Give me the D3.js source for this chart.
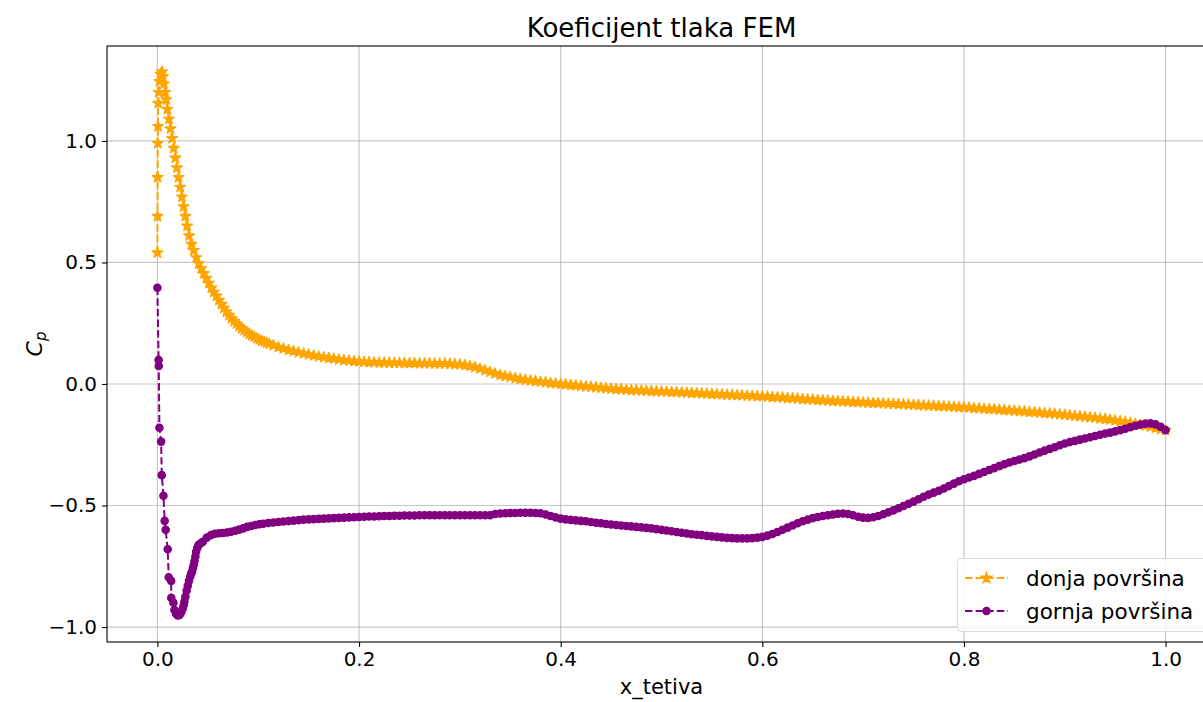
<!DOCTYPE html>
<html>
<head>
<meta charset="utf-8">
<script src="https://cdn.jsdelivr.net/npm/d3@7"></script>
<style>
  html, body { margin: 0; padding: 0; background: #fff; overflow: hidden; }
  text { font-family: "DejaVu Sans", sans-serif; }
</style>
</head>
<body>
<svg id="chart" width="1203" height="702"></svg>
<script>
// ---------------- data ----------------
const chartTitle = "Koeficijent tlaka FEM";
const xLabel = "x_tetiva";
const seriesNames = ["donja površina", "gornja površina"];
const xTicks = [0.0, 0.2, 0.4, 0.6, 0.8, 1.0];
const yTicks = [-1.0, -0.5, 0.0, 0.5, 1.0];

// lower surface (donja površina)
const xLower = [
  0, 0.0001, 0.0002, 0.0004, 0.0006, 0.0008, 0.0012, 0.002, 0.003, 0.0045, 0.0055, 0.0065, 0.0078, 0.0088,
  0.0099, 0.0115, 0.013, 0.0146, 0.0162, 0.0178, 0.0194, 0.021, 0.0226, 0.0243, 0.026, 0.0277, 0.0295, 0.0315,
  0.0337, 0.036, 0.0385, 0.041, 0.0435, 0.046, 0.0485, 0.051, 0.0535, 0.056, 0.0585, 0.061, 0.0635, 0.066,
  0.0685, 0.071, 0.0735, 0.076, 0.0785, 0.081, 0.0835, 0.086, 0.0885, 0.091, 0.0935, 0.096, 0.0985, 0.101,
  0.1035, 0.106, 0.1085, 0.111,
  0.115, 0.12, 0.125, 0.13, 0.135, 0.14, 0.145, 0.15, 0.155, 0.16, 0.165, 0.17, 0.175, 0.18, 0.185, 0.19,
  0.195, 0.2, 0.205, 0.21, 0.215, 0.22, 0.225, 0.23, 0.235, 0.24, 0.245, 0.25, 0.255, 0.26, 0.265, 0.27,
  0.275, 0.28, 0.285, 0.29, 0.295, 0.3, 0.305, 0.31, 0.315, 0.32, 0.325, 0.33, 0.335, 0.34, 0.345, 0.35,
  0.355, 0.36, 0.365, 0.37, 0.375, 0.38, 0.385, 0.39, 0.395, 0.4, 0.405, 0.41, 0.415, 0.42, 0.425, 0.43,
  0.435, 0.44, 0.445, 0.45, 0.455, 0.46, 0.465, 0.47, 0.475, 0.48, 0.485, 0.49, 0.495, 0.5, 0.505, 0.51,
  0.515, 0.52, 0.525, 0.53, 0.535, 0.54, 0.545, 0.55, 0.555, 0.56, 0.565, 0.57, 0.575, 0.58, 0.585, 0.59,
  0.595, 0.6, 0.605, 0.61, 0.615, 0.62, 0.625, 0.63, 0.635, 0.64, 0.645, 0.65, 0.655, 0.66, 0.665, 0.67,
  0.675, 0.68, 0.685, 0.69, 0.695, 0.7, 0.705, 0.71, 0.715, 0.72, 0.725, 0.73, 0.735, 0.74, 0.745, 0.75,
  0.755, 0.76, 0.765, 0.77, 0.775, 0.78, 0.785, 0.79, 0.795, 0.8, 0.805, 0.81, 0.815, 0.82, 0.825, 0.83,
  0.835, 0.84, 0.845, 0.85, 0.855, 0.86, 0.865, 0.87, 0.875, 0.88, 0.885, 0.89, 0.895, 0.9, 0.905, 0.91,
  0.915, 0.92, 0.925, 0.93, 0.935, 0.94, 0.945, 0.95, 0.955, 0.96, 0.965, 0.97, 0.975, 0.98, 0.985, 0.99,
  0.995, 1.0
];
const cpLower = [
  0.54, 0.69, 0.85, 0.99, 1.06, 1.155, 1.20, 1.245, 1.275, 1.285, 1.265, 1.235, 1.20, 1.17,
  1.13, 1.09, 1.05, 1.01, 0.97, 0.93, 0.89, 0.85, 0.81, 0.77, 0.73, 0.69, 0.65, 0.61,
  0.575, 0.55, 0.52, 0.495, 0.475, 0.455, 0.435, 0.415, 0.395, 0.378, 0.362, 0.345, 0.328, 0.312,
  0.297, 0.283, 0.27, 0.258, 0.248, 0.238, 0.229, 0.221, 0.213, 0.206, 0.2, 0.194, 0.188, 0.183,
  0.178, 0.173, 0.169, 0.165,
  0.159, 0.152, 0.146, 0.14, 0.135, 0.13, 0.125, 0.121, 0.117, 0.113, 0.11, 0.107, 0.104, 0.101, 0.098, 0.096,
  0.094, 0.092, 0.091, 0.09, 0.089, 0.088, 0.088, 0.087, 0.087, 0.087, 0.086, 0.086, 0.086, 0.085, 0.085, 0.085,
  0.084, 0.084, 0.084, 0.083, 0.082, 0.081, 0.078, 0.074, 0.069, 0.063, 0.057, 0.05, 0.043, 0.037, 0.032, 0.028,
  0.024, 0.02, 0.017, 0.014, 0.012, 0.009, 0.007, 0.004, 0.002, 0.0, -0.002, -0.004, -0.006, -0.008, -0.01, -0.012,
  -0.014, -0.016, -0.018, -0.019, -0.021, -0.022, -0.024, -0.025, -0.026, -0.027, -0.028, -0.029, -0.03, -0.031, -0.032, -0.033,
  -0.034, -0.035, -0.036, -0.037, -0.038, -0.039, -0.04, -0.041, -0.042, -0.043, -0.044, -0.045, -0.046, -0.047, -0.048, -0.049,
  -0.05, -0.051, -0.052, -0.054, -0.055, -0.056, -0.058, -0.059, -0.06, -0.062, -0.063, -0.064, -0.066, -0.067, -0.068, -0.07,
  -0.071, -0.072, -0.073, -0.074, -0.075, -0.076, -0.077, -0.078, -0.079, -0.08, -0.081, -0.082, -0.083, -0.084, -0.085, -0.086,
  -0.087, -0.088, -0.089, -0.09, -0.091, -0.092, -0.093, -0.094, -0.095, -0.096, -0.097, -0.099, -0.1, -0.102, -0.103, -0.104,
  -0.106, -0.107, -0.109, -0.11, -0.112, -0.113, -0.115, -0.116, -0.118, -0.12, -0.121, -0.123, -0.125, -0.127, -0.129, -0.131,
  -0.133, -0.135, -0.137, -0.139, -0.142, -0.144, -0.147, -0.15, -0.153, -0.156, -0.16, -0.164, -0.168, -0.172, -0.176, -0.181,
  -0.186, -0.19
];

// upper surface (gornja površina)
const xUpper = [
  0, 0.0012, 0.0013, 0.002, 0.0037, 0.0043, 0.006, 0.0072, 0.0082, 0.0102, 0.0112, 0.0136, 0.0138, 0.0159,
  0.0169, 0.0185, 0.0201, 0.022, 0.0235, 0.025, 0.0261, 0.0268, 0.0278, 0.029, 0.0301, 0.0313, 0.0325, 0.0335,
  0.0344, 0.0352, 0.036, 0.0368, 0.0377, 0.0384, 0.0395, 0.0407, 0.043, 0.045, 0.049, 0.053, 0.057, 0.061,
  0.065, 0.069, 0.073, 0.077, 0.081, 0.085, 0.089, 0.093, 0.097, 0.101,
  0.105, 0.11, 0.115, 0.12, 0.125, 0.13, 0.135, 0.14, 0.145, 0.15, 0.155, 0.16, 0.165, 0.17, 0.175, 0.18,
  0.185, 0.19, 0.195, 0.2, 0.205, 0.21, 0.215, 0.22, 0.225, 0.23, 0.235, 0.24, 0.245, 0.25, 0.255, 0.26,
  0.265, 0.27, 0.275, 0.28, 0.285, 0.29, 0.295, 0.3, 0.305, 0.31, 0.315, 0.32, 0.325, 0.33, 0.335, 0.34,
  0.345, 0.35, 0.355, 0.36, 0.365, 0.37, 0.375, 0.38, 0.385, 0.39, 0.395, 0.4, 0.405, 0.41, 0.415, 0.42,
  0.425, 0.43, 0.435, 0.44, 0.445, 0.45, 0.455, 0.46, 0.465, 0.47, 0.475, 0.48, 0.485, 0.49, 0.495, 0.5,
  0.505, 0.51, 0.515, 0.52, 0.525, 0.53, 0.535, 0.54, 0.545, 0.55, 0.555, 0.56, 0.565, 0.57, 0.575, 0.58,
  0.585, 0.59, 0.595, 0.6, 0.605, 0.61, 0.615, 0.62, 0.625, 0.63, 0.635, 0.64, 0.645, 0.65, 0.655, 0.66,
  0.665, 0.67, 0.675, 0.68, 0.685, 0.69, 0.695, 0.7, 0.705, 0.71, 0.715, 0.72, 0.725, 0.73, 0.735, 0.74,
  0.745, 0.75, 0.755, 0.76, 0.765, 0.77, 0.775, 0.78, 0.785, 0.79, 0.795, 0.8, 0.805, 0.81, 0.815, 0.82,
  0.825, 0.83, 0.835, 0.84, 0.845, 0.85, 0.855, 0.86, 0.865, 0.87, 0.875, 0.88, 0.885, 0.89, 0.895, 0.9,
  0.905, 0.91, 0.915, 0.92, 0.925, 0.93, 0.935, 0.94, 0.945, 0.95, 0.955, 0.96, 0.965, 0.97, 0.975, 0.98,
  0.985, 0.99, 0.995, 1.0
];
const cpUpper = [
  0.396, 0.099, 0.074, -0.18, -0.237, -0.375, -0.46, -0.563, -0.60, -0.68, -0.795, -0.81, -0.88, -0.90,
  -0.93, -0.945, -0.952, -0.95, -0.94, -0.925, -0.91, -0.895, -0.875, -0.85, -0.83, -0.81, -0.793, -0.78,
  -0.772, -0.758, -0.745, -0.728, -0.71, -0.69, -0.675, -0.663, -0.655, -0.649, -0.632, -0.622, -0.616, -0.614,
  -0.613, -0.611, -0.608, -0.604, -0.599, -0.594, -0.588, -0.584, -0.58, -0.577,
  -0.575, -0.572, -0.57, -0.568, -0.566, -0.564, -0.562, -0.56, -0.558, -0.557, -0.556, -0.555, -0.554, -0.553, -0.552, -0.551,
  -0.55, -0.549, -0.548, -0.547, -0.546, -0.545, -0.545, -0.544, -0.543, -0.543, -0.542, -0.542, -0.541, -0.541, -0.541, -0.54,
  -0.54, -0.54, -0.54, -0.54, -0.54, -0.54, -0.54, -0.54, -0.54, -0.54, -0.54, -0.54, -0.54, -0.54, -0.535, -0.533,
  -0.532, -0.531, -0.531, -0.53, -0.53, -0.53, -0.531, -0.532, -0.537, -0.543, -0.549, -0.554, -0.557, -0.559, -0.561, -0.563,
  -0.565, -0.568, -0.571, -0.573, -0.576, -0.578, -0.58, -0.582, -0.584, -0.586, -0.588, -0.59, -0.592, -0.594, -0.597, -0.6,
  -0.603, -0.606, -0.609, -0.612, -0.615, -0.618, -0.62, -0.622, -0.625, -0.627, -0.629, -0.631, -0.633, -0.634, -0.635, -0.635,
  -0.635, -0.634, -0.632, -0.629, -0.624, -0.617, -0.609, -0.6, -0.591, -0.582, -0.573, -0.565, -0.558, -0.552, -0.547, -0.543,
  -0.54, -0.537, -0.534, -0.533, -0.535, -0.54, -0.546, -0.55, -0.551, -0.548, -0.543, -0.536, -0.528, -0.52, -0.511, -0.502,
  -0.493, -0.484, -0.474, -0.464, -0.455, -0.447, -0.439, -0.43, -0.42, -0.41, -0.4, -0.392, -0.385, -0.378, -0.37, -0.362,
  -0.354, -0.346, -0.338, -0.33, -0.323, -0.317, -0.311, -0.305, -0.298, -0.29, -0.282, -0.274, -0.267, -0.26, -0.252, -0.245,
  -0.239, -0.234, -0.229, -0.224, -0.219, -0.214, -0.209, -0.204, -0.2, -0.195, -0.19, -0.184, -0.178, -0.172, -0.167, -0.163,
  -0.162, -0.166, -0.176, -0.19
];

// ---------------- drawing ----------------
const colors = ["#FFA500", "#800080"];
const svg = d3.select("#chart");
const plot = { left: 107, top: 46, right: 1216, bottom: 642 };

const x = d3.scaleLinear().domain([-0.05, 1.05]).range([plot.left, plot.right]);
const y = d3.scaleLinear().domain([-1.0615, 1.3905]).range([plot.bottom, plot.top]);

const fmt = v => d3.format(".1f")(v).replace("-", "\u2212");

// grid
const grid = svg.append("g");
grid.selectAll("line.gx").data(xTicks).enter().append("line")
  .attr("x1", d => x(d)).attr("x2", d => x(d))
  .attr("y1", plot.top).attr("y2", plot.bottom)
  .attr("stroke", "#b0b0b0").attr("stroke-opacity", 0.7).attr("stroke-width", 1.2);
grid.selectAll("line.gy").data(yTicks).enter().append("line")
  .attr("x1", plot.left).attr("x2", plot.right)
  .attr("y1", d => y(d)).attr("y2", d => y(d))
  .attr("stroke", "#b0b0b0").attr("stroke-opacity", 0.7).attr("stroke-width", 1.2);

// axes
const xAxis = d3.axisBottom(x).tickValues(xTicks).tickFormat(fmt).tickSize(5).tickPadding(5);
const yAxis = d3.axisLeft(y).tickValues(yTicks).tickFormat(fmt).tickSize(5).tickPadding(5);
const gx = svg.append("g").attr("transform", `translate(0,${plot.bottom})`).call(xAxis);
const gy = svg.append("g").attr("transform", `translate(${plot.left},0)`).call(yAxis);
[gx, gy].forEach(g => {
  g.select(".domain").remove();
  g.selectAll(".tick line").attr("stroke", "#000").attr("stroke-width", 1.1);
  g.selectAll(".tick text").attr("font-family", "DejaVu Sans").attr("font-size", 20).attr("fill", "#000");
});

// series
const series = [
  { name: seriesNames[0], xs: xLower, ys: cpLower, color: colors[0], marker: "star" },
  { name: seriesNames[1], xs: xUpper, ys: cpUpper, color: colors[1], marker: "circle" }
];
const line = d3.line().x(d => x(d[0])).y(d => y(d[1]));
const starPath = d3.symbol().type(d3.symbolStar).size(36)();
const circlePath = d3.symbol().type(d3.symbolCircle).size(42)();

svg.append("clipPath").attr("id", "clip").append("rect")
  .attr("x", plot.left).attr("y", plot.top)
  .attr("width", plot.right - plot.left).attr("height", plot.bottom - plot.top);

const dataG = svg.append("g").attr("clip-path", "url(#clip)");
series.forEach(s => {
  const pts = s.xs.map((v, i) => [v, s.ys[i]]);
  const g = dataG.append("g");
  g.append("path").datum(pts).attr("d", line)
    .attr("fill", "none").attr("stroke", s.color).attr("stroke-width", 2)
    .attr("stroke-dasharray", "7.4,3.2");
  g.selectAll("path.m").data(pts).enter().append("path")
    .attr("class", "m")
    .attr("d", s.marker === "star" ? starPath : circlePath)
    .attr("transform", d => `translate(${x(d[0])},${y(d[1])})`)
    .attr("fill", s.color).attr("stroke", s.color).attr("stroke-width", 1.3)
    .attr("stroke-linejoin", "round");
});

// frame (spines)
svg.append("rect").attr("x", plot.left).attr("y", plot.top)
  .attr("width", plot.right - plot.left).attr("height", plot.bottom - plot.top)
  .attr("fill", "none").attr("stroke", "#000").attr("stroke-width", 1.1);

// title and labels
svg.append("text").attr("x", (plot.left + plot.right) / 2).attr("y", 37)
  .attr("text-anchor", "middle").attr("font-size", 26).attr("fill", "#000").text(chartTitle);
svg.append("text").attr("x", (plot.left + plot.right) / 2).attr("y", 694)
  .attr("text-anchor", "middle").attr("font-size", 21).attr("fill", "#000").text(xLabel);
const yl = svg.append("text").attr("transform", `translate(42,${(plot.top + plot.bottom) / 2}) rotate(-90)`)
  .attr("text-anchor", "middle").attr("font-size", 22).attr("fill", "#000");
yl.append("tspan").attr("font-style", "italic").text("C");
yl.append("tspan").attr("font-style", "italic").attr("font-size", 15).attr("dy", 4).text("p");

// legend
const lg = svg.append("g");
lg.append("rect").attr("x", 957.5).attr("y", 558.5).attr("width", 252).attr("height", 73)
  .attr("rx", 4).attr("fill", "#fff").attr("fill-opacity", 0.8)
  .attr("stroke", "#d9d9d9").attr("stroke-width", 1);
series.forEach((s, i) => {
  const cy = 578 + i * 33;
  lg.append("line").attr("x1", 965).attr("x2", 1008).attr("y1", cy).attr("y2", cy)
    .attr("stroke", s.color).attr("stroke-width", 2).attr("stroke-dasharray", "7.4,3.2");
  lg.append("path").attr("d", s.marker === "star" ? starPath : circlePath)
    .attr("transform", `translate(986.5,${cy})`)
    .attr("fill", s.color).attr("stroke", s.color).attr("stroke-width", 1.3);
  lg.append("text").attr("x", 1026).attr("y", cy + 7.5).attr("font-size", 21.5)
    .attr("fill", "#000").text(s.name);
});
</script>
</body>
</html>
